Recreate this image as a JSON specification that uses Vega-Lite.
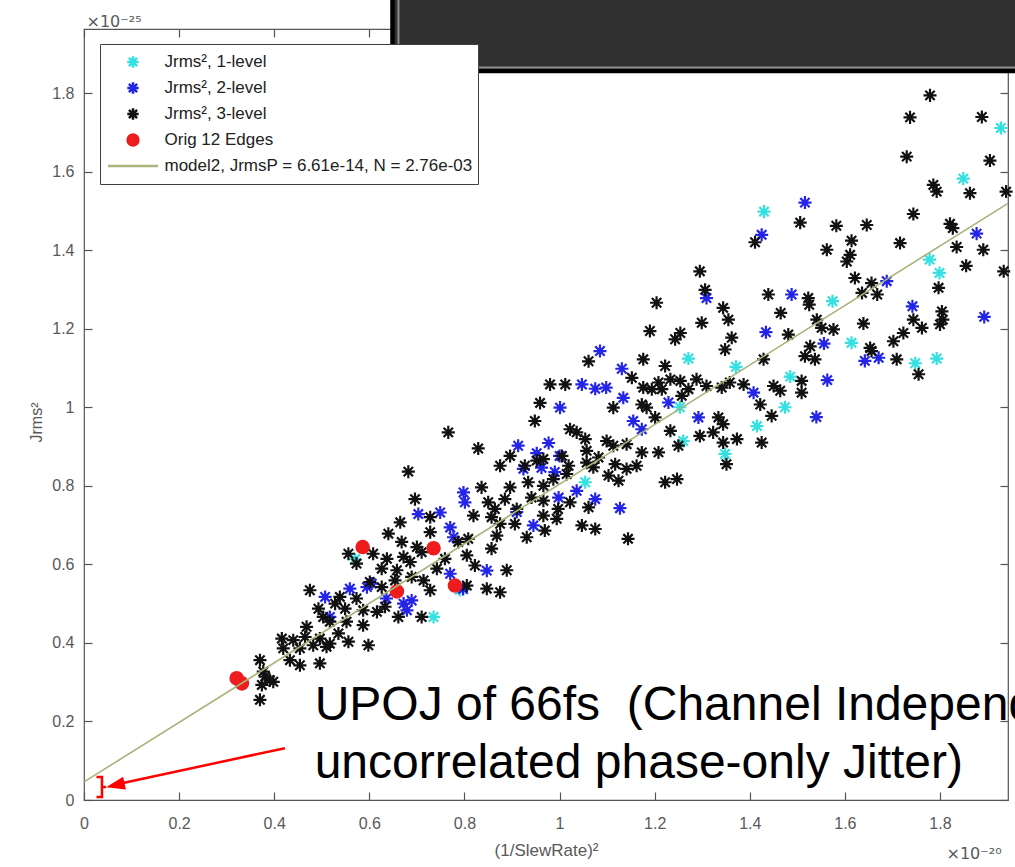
{
  "$schema": "https://vega.github.io/schema/vega-lite/v6.json",
  "width": 924,
  "height": 771,
  "autosize": {"type": "none"},
  "padding": {"left": 84, "top": 29, "right": 7, "bottom": 67},
  "background": "#ffffff",
  "config": {
    "view": {"stroke": "#555555", "strokeWidth": 1.2},
    "axis": {
      "labelFont": "Liberation Sans", "labelFontSize": 16, "labelColor": "#595959",
      "tickColor": "#555555", "tickWidth": 1.2,
      "titleFont": "Liberation Sans", "titleFontSize": 17, "titleColor": "#595959", "titleFontWeight": "normal",
      "domain": false, "grid": false
    }
  },
  "datasets": {
    "pts": [
      {"x":1.928,"y":1.711,"s":"Jrms², 1-level"},{"x":1.849,"y":1.582,"s":"Jrms², 1-level"},{"x":1.778,"y":1.376,"s":"Jrms², 1-level"},{"x":1.799,"y":1.342,"s":"Jrms², 1-level"},{"x":1.574,"y":1.270,"s":"Jrms², 1-level"},{"x":1.614,"y":1.164,"s":"Jrms², 1-level"},{"x":1.485,"y":1.078,"s":"Jrms², 1-level"},{"x":1.748,"y":1.112,"s":"Jrms², 1-level"},{"x":1.793,"y":1.124,"s":"Jrms², 1-level"},{"x":1.430,"y":1.498,"s":"Jrms², 1-level"},{"x":1.371,"y":1.103,"s":"Jrms², 1-level"},{"x":1.271,"y":1.124,"s":"Jrms², 1-level"},{"x":1.260,"y":0.914,"s":"Jrms², 1-level"},{"x":1.348,"y":0.881,"s":"Jrms², 1-level"},{"x":1.054,"y":0.809,"s":"Jrms², 1-level"},{"x":1.253,"y":1.000,"s":"Jrms², 1-level"},{"x":0.735,"y":0.466,"s":"Jrms², 1-level"},{"x":1.415,"y":0.952,"s":"Jrms², 1-level"},{"x":1.474,"y":1.000,"s":"Jrms², 1-level"},{"x":0.570,"y":0.613,"s":"Jrms², 1-level"},{"x":0.790,"y":0.535,"s":"Jrms², 1-level"},
      {"x":1.516,"y":1.521,"s":"Jrms², 2-level"},{"x":1.425,"y":1.439,"s":"Jrms², 2-level"},{"x":1.877,"y":1.442,"s":"Jrms², 2-level"},{"x":1.688,"y":1.321,"s":"Jrms², 2-level"},{"x":1.488,"y":1.287,"s":"Jrms², 2-level"},{"x":1.742,"y":1.257,"s":"Jrms², 2-level"},{"x":1.893,"y":1.230,"s":"Jrms², 2-level"},{"x":1.434,"y":1.191,"s":"Jrms², 2-level"},{"x":1.556,"y":1.162,"s":"Jrms², 2-level"},{"x":1.642,"y":1.118,"s":"Jrms², 2-level"},{"x":1.671,"y":1.126,"s":"Jrms², 2-level"},{"x":1.563,"y":1.069,"s":"Jrms², 2-level"},{"x":1.309,"y":1.278,"s":"Jrms², 2-level"},{"x":1.540,"y":0.975,"s":"Jrms², 2-level"},
      {"x":1.085,"y":1.143,"s":"Jrms², 2-level"},{"x":1.131,"y":1.098,"s":"Jrms², 2-level"},{"x":1.047,"y":1.058,"s":"Jrms², 2-level"},{"x":1.075,"y":1.047,"s":"Jrms², 2-level"},{"x":1.098,"y":1.050,"s":"Jrms², 2-level"},{"x":1.134,"y":1.024,"s":"Jrms², 2-level"},{"x":1.408,"y":1.037,"s":"Jrms², 2-level"},{"x":1.229,"y":1.012,"s":"Jrms², 2-level"},{"x":1.292,"y":0.974,"s":"Jrms², 2-level"},{"x":1.155,"y":0.965,"s":"Jrms², 2-level"},{"x":1.173,"y":0.944,"s":"Jrms², 2-level"},{"x":1.001,"y":0.999,"s":"Jrms², 2-level"},{"x":0.913,"y":0.902,"s":"Jrms², 2-level"},{"x":0.952,"y":0.883,"s":"Jrms², 2-level"},{"x":0.977,"y":0.909,"s":"Jrms², 2-level"},{"x":1.000,"y":0.876,"s":"Jrms², 2-level"},{"x":0.924,"y":0.843,"s":"Jrms², 2-level"},{"x":0.962,"y":0.846,"s":"Jrms², 2-level"},{"x":0.990,"y":0.835,"s":"Jrms², 2-level"},{"x":0.998,"y":0.770,"s":"Jrms², 2-level"},{"x":1.075,"y":0.766,"s":"Jrms², 2-level"},{"x":1.036,"y":0.787,"s":"Jrms², 2-level"},{"x":1.127,"y":0.743,"s":"Jrms², 2-level"},{"x":0.945,"y":0.699,"s":"Jrms², 2-level"},{"x":0.910,"y":0.733,"s":"Jrms², 2-level"},
      {"x":0.798,"y":0.783,"s":"Jrms², 2-level"},{"x":0.801,"y":0.758,"s":"Jrms², 2-level"},{"x":0.749,"y":0.732,"s":"Jrms², 2-level"},{"x":0.703,"y":0.728,"s":"Jrms², 2-level"},{"x":0.770,"y":0.694,"s":"Jrms², 2-level"},{"x":0.777,"y":0.669,"s":"Jrms², 2-level"},{"x":0.847,"y":0.584,"s":"Jrms², 2-level"},{"x":0.770,"y":0.576,"s":"Jrms², 2-level"},{"x":0.797,"y":0.537,"s":"Jrms², 2-level"},
      {"x":0.507,"y":0.517,"s":"Jrms², 2-level"},{"x":0.559,"y":0.538,"s":"Jrms², 2-level"},{"x":0.595,"y":0.542,"s":"Jrms², 2-level"},{"x":0.605,"y":0.551,"s":"Jrms², 2-level"},{"x":0.636,"y":0.513,"s":"Jrms², 2-level"},{"x":0.672,"y":0.500,"s":"Jrms², 2-level"},{"x":0.689,"y":0.508,"s":"Jrms², 2-level"},{"x":0.679,"y":0.483,"s":"Jrms², 2-level"},{"x":0.517,"y":0.466,"s":"Jrms², 2-level"},
      {"x":0.640,"y":0.678,"s":"Jrms², 3-level"},{"x":0.668,"y":0.657,"s":"Jrms², 3-level"},{"x":0.700,"y":0.644,"s":"Jrms², 3-level"},{"x":0.556,"y":0.627,"s":"Jrms², 3-level"},{"x":0.608,"y":0.627,"s":"Jrms², 3-level"},{"x":0.637,"y":0.614,"s":"Jrms², 3-level"},{"x":0.672,"y":0.619,"s":"Jrms², 3-level"},{"x":0.686,"y":0.606,"s":"Jrms², 3-level"},{"x":0.710,"y":0.631,"s":"Jrms², 3-level"},{"x":0.573,"y":0.602,"s":"Jrms², 3-level"},{"x":0.626,"y":0.589,"s":"Jrms², 3-level"},{"x":0.658,"y":0.585,"s":"Jrms², 3-level"},{"x":0.689,"y":0.568,"s":"Jrms², 3-level"},{"x":0.714,"y":0.559,"s":"Jrms², 3-level"},{"x":0.601,"y":0.555,"s":"Jrms², 3-level"},{"x":0.626,"y":0.542,"s":"Jrms², 3-level"},{"x":0.654,"y":0.559,"s":"Jrms², 3-level"},{"x":0.475,"y":0.534,"s":"Jrms², 3-level"},{"x":0.538,"y":0.517,"s":"Jrms², 3-level"},{"x":0.573,"y":0.513,"s":"Jrms², 3-level"},{"x":0.528,"y":0.500,"s":"Jrms², 3-level"},{"x":0.493,"y":0.487,"s":"Jrms², 3-level"},{"x":0.549,"y":0.487,"s":"Jrms², 3-level"},{"x":0.587,"y":0.483,"s":"Jrms², 3-level"},{"x":0.616,"y":0.479,"s":"Jrms², 3-level"},{"x":0.633,"y":0.492,"s":"Jrms², 3-level"},{"x":0.661,"y":0.466,"s":"Jrms², 3-level"},{"x":0.710,"y":0.466,"s":"Jrms², 3-level"},{"x":0.503,"y":0.466,"s":"Jrms², 3-level"},{"x":0.517,"y":0.454,"s":"Jrms², 3-level"},{"x":0.552,"y":0.454,"s":"Jrms², 3-level"},{"x":0.587,"y":0.445,"s":"Jrms², 3-level"},{"x":0.468,"y":0.441,"s":"Jrms², 3-level"},{"x":0.416,"y":0.411,"s":"Jrms², 3-level"},{"x":0.440,"y":0.407,"s":"Jrms², 3-level"},{"x":0.465,"y":0.415,"s":"Jrms², 3-level"},{"x":0.496,"y":0.411,"s":"Jrms², 3-level"},{"x":0.517,"y":0.398,"s":"Jrms², 3-level"},{"x":0.535,"y":0.424,"s":"Jrms², 3-level"},{"x":0.556,"y":0.403,"s":"Jrms², 3-level"},{"x":0.598,"y":0.394,"s":"Jrms², 3-level"},{"x":0.419,"y":0.386,"s":"Jrms², 3-level"},{"x":0.454,"y":0.386,"s":"Jrms², 3-level"},{"x":0.482,"y":0.394,"s":"Jrms², 3-level"},{"x":0.510,"y":0.390,"s":"Jrms², 3-level"},{"x":0.433,"y":0.356,"s":"Jrms², 3-level"},{"x":0.454,"y":0.343,"s":"Jrms², 3-level"},{"x":0.496,"y":0.348,"s":"Jrms², 3-level"},{"x":0.370,"y":0.356,"s":"Jrms², 3-level"},{"x":0.377,"y":0.327,"s":"Jrms², 3-level"},{"x":0.391,"y":0.305,"s":"Jrms², 3-level"},{"x":0.374,"y":0.293,"s":"Jrms², 3-level"},{"x":0.381,"y":0.314,"s":"Jrms², 3-level"},{"x":0.370,"y":0.255,"s":"Jrms², 3-level"},{"x":0.398,"y":0.301,"s":"Jrms², 3-level"},
      {"x":0.948,"y":0.965,"s":"Jrms², 3-level"},{"x":0.766,"y":0.936,"s":"Jrms², 3-level"},{"x":0.829,"y":0.895,"s":"Jrms², 3-level"},{"x":1.022,"y":0.944,"s":"Jrms², 3-level"},{"x":1.036,"y":0.936,"s":"Jrms², 3-level"},{"x":1.054,"y":0.919,"s":"Jrms², 3-level"},{"x":0.875,"y":0.851,"s":"Jrms², 3-level"},{"x":0.896,"y":0.876,"s":"Jrms², 3-level"},{"x":0.682,"y":0.836,"s":"Jrms², 3-level"},{"x":0.927,"y":0.851,"s":"Jrms², 3-level"},{"x":0.952,"y":0.864,"s":"Jrms², 3-level"},{"x":0.966,"y":0.868,"s":"Jrms², 3-level"},{"x":1.005,"y":0.876,"s":"Jrms², 3-level"},{"x":1.019,"y":0.851,"s":"Jrms², 3-level"},{"x":1.057,"y":0.859,"s":"Jrms², 3-level"},{"x":1.071,"y":0.847,"s":"Jrms², 3-level"},{"x":0.836,"y":0.796,"s":"Jrms², 3-level"},{"x":0.896,"y":0.796,"s":"Jrms², 3-level"},{"x":0.934,"y":0.809,"s":"Jrms², 3-level"},{"x":0.966,"y":0.800,"s":"Jrms², 3-level"},{"x":0.987,"y":0.817,"s":"Jrms², 3-level"},{"x":1.015,"y":0.830,"s":"Jrms², 3-level"},{"x":1.057,"y":0.889,"s":"Jrms², 3-level"},{"x":0.696,"y":0.766,"s":"Jrms², 3-level"},{"x":0.850,"y":0.758,"s":"Jrms², 3-level"},{"x":0.864,"y":0.741,"s":"Jrms², 3-level"},{"x":0.885,"y":0.766,"s":"Jrms², 3-level"},{"x":0.910,"y":0.741,"s":"Jrms², 3-level"},{"x":0.941,"y":0.770,"s":"Jrms², 3-level"},{"x":0.966,"y":0.762,"s":"Jrms², 3-level"},{"x":0.997,"y":0.741,"s":"Jrms², 3-level"},{"x":1.022,"y":0.758,"s":"Jrms², 3-level"},{"x":1.061,"y":0.745,"s":"Jrms², 3-level"},{"x":0.665,"y":0.707,"s":"Jrms², 3-level"},{"x":0.728,"y":0.720,"s":"Jrms², 3-level"},{"x":0.819,"y":0.724,"s":"Jrms², 3-level"},{"x":0.857,"y":0.720,"s":"Jrms², 3-level"},{"x":0.875,"y":0.703,"s":"Jrms², 3-level"},{"x":0.906,"y":0.703,"s":"Jrms², 3-level"},{"x":0.966,"y":0.724,"s":"Jrms², 3-level"},{"x":0.994,"y":0.716,"s":"Jrms², 3-level"},{"x":1.047,"y":0.699,"s":"Jrms², 3-level"},{"x":0.728,"y":0.682,"s":"Jrms², 3-level"},{"x":0.787,"y":0.657,"s":"Jrms², 3-level"},{"x":0.808,"y":0.665,"s":"Jrms², 3-level"},{"x":0.868,"y":0.673,"s":"Jrms², 3-level"},{"x":0.931,"y":0.669,"s":"Jrms², 3-level"},{"x":0.969,"y":0.686,"s":"Jrms², 3-level"},{"x":0.759,"y":0.614,"s":"Jrms², 3-level"},{"x":0.805,"y":0.623,"s":"Jrms², 3-level"},{"x":0.822,"y":0.597,"s":"Jrms², 3-level"},{"x":0.857,"y":0.640,"s":"Jrms², 3-level"},{"x":0.742,"y":0.589,"s":"Jrms², 3-level"},{"x":0.889,"y":0.585,"s":"Jrms², 3-level"},{"x":0.847,"y":0.538,"s":"Jrms², 3-level"},{"x":0.875,"y":0.529,"s":"Jrms², 3-level"},{"x":0.728,"y":0.534,"s":"Jrms², 3-level"},{"x":0.805,"y":0.546,"s":"Jrms², 3-level"},
      {"x":1.204,"y":1.266,"s":"Jrms², 3-level"},{"x":1.299,"y":1.215,"s":"Jrms², 3-level"},{"x":1.344,"y":1.253,"s":"Jrms², 3-level"},{"x":1.355,"y":1.223,"s":"Jrms², 3-level"},{"x":1.439,"y":1.287,"s":"Jrms², 3-level"},{"x":1.190,"y":1.194,"s":"Jrms², 3-level"},{"x":1.243,"y":1.173,"s":"Jrms², 3-level"},{"x":1.254,"y":1.189,"s":"Jrms², 3-level"},{"x":1.362,"y":1.177,"s":"Jrms², 3-level"},{"x":1.348,"y":1.147,"s":"Jrms², 3-level"},{"x":1.061,"y":1.117,"s":"Jrms², 3-level"},{"x":1.176,"y":1.122,"s":"Jrms², 3-level"},{"x":1.222,"y":1.105,"s":"Jrms², 3-level"},{"x":1.429,"y":1.122,"s":"Jrms², 3-level"},{"x":1.152,"y":1.075,"s":"Jrms², 3-level"},{"x":1.208,"y":1.063,"s":"Jrms², 3-level"},{"x":1.233,"y":1.071,"s":"Jrms², 3-level"},{"x":1.254,"y":1.067,"s":"Jrms², 3-level"},{"x":1.288,"y":1.071,"s":"Jrms², 3-level"},{"x":1.309,"y":1.054,"s":"Jrms², 3-level"},{"x":1.341,"y":1.050,"s":"Jrms², 3-level"},{"x":1.358,"y":1.063,"s":"Jrms², 3-level"},{"x":1.387,"y":1.058,"s":"Jrms², 3-level"},{"x":1.450,"y":1.054,"s":"Jrms², 3-level"},{"x":1.176,"y":1.050,"s":"Jrms², 3-level"},{"x":1.194,"y":1.046,"s":"Jrms², 3-level"},{"x":1.215,"y":1.046,"s":"Jrms², 3-level"},{"x":1.257,"y":1.029,"s":"Jrms², 3-level"},{"x":1.271,"y":1.046,"s":"Jrms², 3-level"},{"x":1.113,"y":0.999,"s":"Jrms², 3-level"},{"x":1.173,"y":1.007,"s":"Jrms², 3-level"},{"x":1.183,"y":0.999,"s":"Jrms², 3-level"},{"x":1.422,"y":1.007,"s":"Jrms², 3-level"},{"x":1.446,"y":0.978,"s":"Jrms², 3-level"},{"x":1.334,"y":0.974,"s":"Jrms², 3-level"},{"x":1.344,"y":0.957,"s":"Jrms², 3-level"},{"x":1.201,"y":0.974,"s":"Jrms², 3-level"},{"x":1.233,"y":0.940,"s":"Jrms², 3-level"},{"x":1.295,"y":0.927,"s":"Jrms², 3-level"},{"x":1.323,"y":0.936,"s":"Jrms², 3-level"},{"x":1.344,"y":0.910,"s":"Jrms², 3-level"},{"x":1.373,"y":0.919,"s":"Jrms², 3-level"},{"x":1.425,"y":0.910,"s":"Jrms², 3-level"},{"x":1.099,"y":0.914,"s":"Jrms², 3-level"},{"x":1.113,"y":0.902,"s":"Jrms², 3-level"},{"x":1.141,"y":0.906,"s":"Jrms², 3-level"},{"x":1.173,"y":0.885,"s":"Jrms², 3-level"},{"x":1.208,"y":0.885,"s":"Jrms², 3-level"},{"x":1.250,"y":0.902,"s":"Jrms², 3-level"},{"x":1.082,"y":0.872,"s":"Jrms², 3-level"},{"x":1.117,"y":0.855,"s":"Jrms², 3-level"},{"x":1.141,"y":0.843,"s":"Jrms², 3-level"},{"x":1.162,"y":0.851,"s":"Jrms², 3-level"},{"x":1.351,"y":0.855,"s":"Jrms², 3-level"},{"x":1.103,"y":0.826,"s":"Jrms², 3-level"},{"x":1.124,"y":0.813,"s":"Jrms², 3-level"},{"x":1.222,"y":0.809,"s":"Jrms², 3-level"},{"x":1.247,"y":0.817,"s":"Jrms², 3-level"},
      {"x":1.786,"y":1.566,"s":"Jrms², 3-level"},{"x":1.793,"y":1.549,"s":"Jrms², 3-level"},{"x":1.863,"y":1.545,"s":"Jrms², 3-level"},{"x":1.939,"y":1.549,"s":"Jrms², 3-level"},{"x":1.744,"y":1.492,"s":"Jrms², 3-level"},{"x":1.506,"y":1.470,"s":"Jrms², 3-level"},{"x":1.582,"y":1.462,"s":"Jrms², 3-level"},{"x":1.646,"y":1.464,"s":"Jrms², 3-level"},{"x":1.821,"y":1.467,"s":"Jrms², 3-level"},{"x":1.827,"y":1.456,"s":"Jrms², 3-level"},{"x":1.614,"y":1.424,"s":"Jrms², 3-level"},{"x":1.562,"y":1.401,"s":"Jrms², 3-level"},{"x":1.611,"y":1.388,"s":"Jrms², 3-level"},{"x":1.604,"y":1.371,"s":"Jrms², 3-level"},{"x":1.716,"y":1.418,"s":"Jrms², 3-level"},{"x":1.835,"y":1.408,"s":"Jrms², 3-level"},{"x":1.891,"y":1.401,"s":"Jrms², 3-level"},{"x":1.855,"y":1.360,"s":"Jrms², 3-level"},{"x":1.934,"y":1.346,"s":"Jrms², 3-level"},{"x":1.621,"y":1.329,"s":"Jrms², 3-level"},{"x":1.656,"y":1.316,"s":"Jrms², 3-level"},{"x":1.636,"y":1.291,"s":"Jrms², 3-level"},{"x":1.668,"y":1.287,"s":"Jrms², 3-level"},{"x":1.797,"y":1.304,"s":"Jrms², 3-level"},{"x":1.523,"y":1.278,"s":"Jrms², 3-level"},{"x":1.525,"y":1.261,"s":"Jrms², 3-level"},{"x":1.465,"y":1.240,"s":"Jrms², 3-level"},{"x":1.541,"y":1.223,"s":"Jrms², 3-level"},{"x":1.551,"y":1.202,"s":"Jrms², 3-level"},{"x":1.576,"y":1.198,"s":"Jrms², 3-level"},{"x":1.639,"y":1.213,"s":"Jrms², 3-level"},{"x":1.804,"y":1.244,"s":"Jrms², 3-level"},{"x":1.806,"y":1.223,"s":"Jrms², 3-level"},{"x":1.800,"y":1.211,"s":"Jrms², 3-level"},{"x":1.762,"y":1.202,"s":"Jrms², 3-level"},{"x":1.744,"y":1.223,"s":"Jrms², 3-level"},{"x":1.481,"y":1.185,"s":"Jrms², 3-level"},{"x":1.723,"y":1.189,"s":"Jrms², 3-level"},{"x":1.702,"y":1.168,"s":"Jrms², 3-level"},{"x":1.527,"y":1.155,"s":"Jrms², 3-level"},{"x":1.516,"y":1.130,"s":"Jrms², 3-level"},{"x":1.537,"y":1.122,"s":"Jrms², 3-level"},{"x":1.653,"y":1.151,"s":"Jrms², 3-level"},{"x":1.656,"y":1.143,"s":"Jrms², 3-level"},{"x":1.709,"y":1.122,"s":"Jrms², 3-level"},{"x":1.755,"y":1.084,"s":"Jrms², 3-level"},{"x":1.464,"y":1.042,"s":"Jrms², 3-level"},{"x":1.509,"y":1.067,"s":"Jrms², 3-level"},{"x":1.509,"y":1.037,"s":"Jrms², 3-level"},
      {"x":1.779,"y":1.794,"s":"Jrms², 3-level"},{"x":1.737,"y":1.738,"s":"Jrms², 3-level"},{"x":1.888,"y":1.739,"s":"Jrms², 3-level"},{"x":1.730,"y":1.638,"s":"Jrms², 3-level"},{"x":1.905,"y":1.628,"s":"Jrms², 3-level"},{"x":1.295,"y":1.346,"s":"Jrms², 3-level"},{"x":1.306,"y":1.299,"s":"Jrms², 3-level"},{"x":1.411,"y":1.420,"s":"Jrms², 3-level"},{"x":0.980,"y":1.058,"s":"Jrms², 3-level"},{"x":1.012,"y":1.058,"s":"Jrms², 3-level"},{"x":0.959,"y":1.011,"s":"Jrms², 3-level"},{"x":1.144,"y":0.665,"s":"Jrms², 3-level"},{"x":1.075,"y":0.690,"s":"Jrms², 3-level"},
      {"x":0.321,"y":0.310,"s":"Orig 12 Edges"},{"x":0.332,"y":0.297,"s":"Orig 12 Edges"},{"x":0.586,"y":0.644,"s":"Orig 12 Edges"},{"x":0.658,"y":0.531,"s":"Orig 12 Edges"},{"x":0.735,"y":0.641,"s":"Orig 12 Edges"},{"x":0.780,"y":0.546,"s":"Orig 12 Edges"}
    ],
    "fit": [{"x": 0, "y": 0.046}, {"x": 1.943, "y": 1.519}]
  },
  "layer": [
    {
      "data": {"name": "pts"},
      "mark": {"type": "point", "filled": false, "opacity": 1, "size": 170, "strokeWidth": 2.2},
      "encoding": {
        "x": {"field": "x", "type": "quantitative",
          "scale": {"domain": [0, 1.943], "nice": false, "zero": false},
          "axis": {"values": [0, 0.2, 0.4, 0.6, 0.8, 1, 1.2, 1.4, 1.6, 1.8], "format": "~g", "tickSize": -8, "labelPadding": 23, "labelBaseline": "top", "labelFlush": false, "labelOverlap": false,
            "title": "(1/SlewRate)²", "titleY": 55, "titleBaseline": "alphabetic"}},
        "y": {"field": "y", "type": "quantitative",
          "scale": {"domain": [0, 1.963], "nice": false, "zero": false},
          "axis": {"values": [0, 0.2, 0.4, 0.6, 0.8, 1, 1.2, 1.4, 1.6, 1.8], "format": "~g", "tickSize": -8, "labelPadding": 18, "labelFlush": false, "labelOverlap": false,
            "title": "Jrms²", "titleX": -40, "titleY": 393, "titleAngle": -90, "titleBaseline": "bottom", "titleAlign": "center", "titleFontSize": 16}},
        "color": {"field": "s", "type": "nominal",
          "scale": {"domain": ["Jrms², 1-level", "Jrms², 2-level", "Jrms², 3-level", "Orig 12 Edges", "model2, JrmsP = 6.61e-14, N = 2.76e-03"],
                    "range": ["#35e0e0", "#2424e6", "#111111", "#ee1c1c", "#a7b47a"]},
          "legend": {"orient": "none", "legendX": 16, "legendY": 15, "title": null, "padding": 5, "fillColor": "#ffffff", "strokeColor": "#404040",
            "labelFont": "Liberation Sans", "labelFontSize": 17, "labelColor": "#222222", "labelOffset": 23, "clipHeight": 26, "rowPadding": 0, "labelLimit": 500,
            "symbolOffset": 19.5, "symbolSize": 130, "symbolStrokeWidth": 2.5, "symbolOpacity": 1}},
        "shape": {"field": "s", "type": "nominal",
          "scale": {"domain": ["Jrms², 1-level", "Jrms², 2-level", "Jrms², 3-level", "Orig 12 Edges", "model2, JrmsP = 6.61e-14, N = 2.76e-03"],
                    "range": [
                      "M-1,0L1,0M0,-1L0,1M-0.72,-0.72L0.72,0.72M-0.72,0.72L0.72,-0.72",
                      "M-1,0L1,0M0,-1L0,1M-0.72,-0.72L0.72,0.72M-0.72,0.72L0.72,-0.72",
                      "M-1,0L1,0M0,-1L0,1M-0.72,-0.72L0.72,0.72M-0.72,0.72L0.72,-0.72",
                      "M0.95,0A0.95,0.95 0 1,1 -0.95,0A0.95,0.95 0 1,1 0.95,0M0.68,0A0.68,0.68 0 1,1 -0.68,0A0.68,0.68 0 1,1 0.68,0M0.42,0A0.42,0.42 0 1,1 -0.42,0A0.42,0.42 0 1,1 0.42,0M0.16,0A0.16,0.16 0 1,1 -0.16,0A0.16,0.16 0 1,1 0.16,0",
                      "M-4.4,0L4.4,0"]},
          "legend": {"orient": "none", "legendX": 16, "legendY": 15, "title": null, "padding": 5, "fillColor": "#ffffff", "strokeColor": "#404040",
            "labelFont": "Liberation Sans", "labelFontSize": 17, "labelColor": "#222222", "labelOffset": 23, "clipHeight": 26, "rowPadding": 0, "labelLimit": 500,
            "symbolOffset": 19.5, "symbolSize": 130, "symbolStrokeWidth": 2.5, "symbolOpacity": 1}}
      }
    },
    {
      "data": {"name": "fit"},
      "mark": {"type": "line", "color": "#a7b47a", "strokeWidth": 1.6},
      "encoding": {
        "x": {"field": "x", "type": "quantitative",
          "axis": {"orient": "top", "values": [0, 0.2, 0.4, 0.6, 0.8, 1, 1.2, 1.4, 1.6, 1.8], "labels": false, "tickSize": -8,
            "title": "×10⁻²⁵", "titleFont": "DejaVu Sans", "titleX": 2, "titleY": -3, "titleAlign": "left", "titleAngle": 0, "titleBaseline": "alphabetic", "titleFontSize": 16}},
        "y": {"field": "y", "type": "quantitative",
          "axis": {"orient": "right", "values": [0, 0.2, 0.4, 0.6, 0.8, 1, 1.2, 1.4, 1.6, 1.8], "labels": false, "tickSize": -8,
            "title": "×10⁻²⁰", "titleFont": "DejaVu Sans", "titleX": -62, "titleY": 829, "titleAlign": "left", "titleAngle": 0, "titleBaseline": "alphabetic", "titleFontSize": 16}}
      }
    },
    {
      "data": {"values": [{"x": 0.4226, "y": 0.132, "x2": 0.082, "y2": 0.0433}]},
      "mark": {"type": "rule", "color": "#ff0000", "strokeWidth": 2.5},
      "encoding": {
        "x": {"field": "x", "type": "quantitative", "axis": null},
        "y": {"field": "y", "type": "quantitative", "axis": null},
        "x2": {"field": "x2"},
        "y2": {"field": "y2"}
      }
    },
    {
      "data": {"values": [{"x": 0.0667, "y": 0.0379}]},
      "mark": {"type": "point", "shape": "M0,-1L0.65,0.9L-0.65,0.9Z", "filled": true, "color": "#ff0000", "opacity": 1, "size": 400, "angle": 257.6},
      "encoding": {
        "x": {"field": "x", "type": "quantitative", "axis": null},
        "y": {"field": "y", "type": "quantitative", "axis": null}
      }
    },
    {
      "data": {"values": [{"x": 0.0336, "y": 0.0331}]},
      "mark": {"type": "point", "shape": "M-0.35,-1L0.2,-1L0.2,1L-0.35,1M0.2,0L0.6,0", "filled": false, "color": "#ff0000", "opacity": 1, "strokeWidth": 2.5, "size": 400},
      "encoding": {
        "x": {"field": "x", "type": "quantitative", "axis": null},
        "y": {"field": "y", "type": "quantitative", "axis": null}
      }
    },
    {
      "data": {"values": [{"x": 0.485, "y": 0.2037, "t": "UPOJ of 66fs\u00a0 (Channel Independent,\nuncorrelated phase-only Jitter)"}]},
      "mark": {"type": "text", "align": "left", "baseline": "alphabetic", "font": "Liberation Sans", "fontSize": 48, "lineHeight": 58, "lineBreak": "\n", "color": "#000000"},
      "encoding": {
        "x": {"field": "x", "type": "quantitative", "axis": null},
        "y": {"field": "y", "type": "quantitative", "axis": null},
        "text": {"field": "t"}
      }
    },
    {
      "data": {"values": [{"x": 0.6487, "x2": 2.3, "y": 1.856, "y2": 2.3}]},
      "mark": {"type": "rect", "fill": "#303030", "stroke": "#000000", "strokeWidth": 4.5},
      "encoding": {
        "x": {"field": "x", "type": "quantitative", "axis": null},
        "x2": {"field": "x2"},
        "y": {"field": "y", "type": "quantitative", "axis": null},
        "y2": {"field": "y2"}
      }
    },
    {
      "data": {"values": [{"x": 0.6613, "x2": 2.3, "y": 1.865, "y2": 2.3}]},
      "mark": {"type": "rect", "fillOpacity": 0, "stroke": "#8c8c8c", "strokeWidth": 2},
      "encoding": {
        "x": {"field": "x", "type": "quantitative", "axis": null},
        "x2": {"field": "x2"},
        "y": {"field": "y", "type": "quantitative", "axis": null},
        "y2": {"field": "y2"}
      }
    }
  ],
  "resolve": {"axis": {"x": "independent", "y": "independent"}}
}
